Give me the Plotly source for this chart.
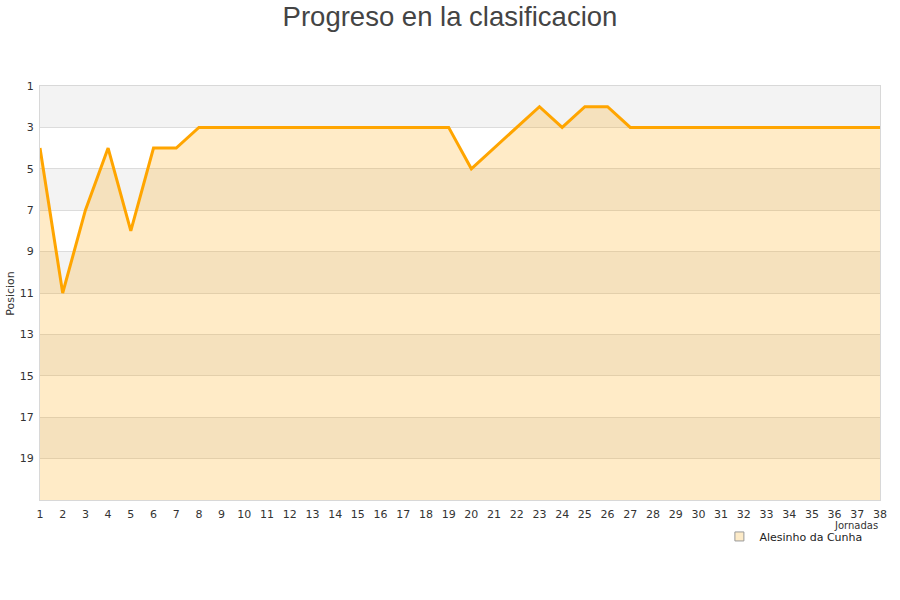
import plotly.graph_objects as go

jornadas = list(range(1, 39))
posiciones = [4, 11, 7, 4, 8, 4, 4, 3, 3, 3, 3, 3, 3, 3, 3, 3, 3, 3, 3, 5,
              4, 3, 2, 3, 2, 2, 3, 3, 3, 3, 3, 3, 3, 3, 3, 3, 3, 3]
equipo = "Alesinho da Cunha"
y_ticks = [1, 3, 5, 7, 9, 11, 13, 15, 17, 19]
y_min, y_max = 1, 21

fig = go.Figure()

# baseline for fill
fig.add_trace(go.Scatter(x=jornadas, y=[y_max] * len(jornadas), mode="lines",
                         line=dict(width=0), showlegend=False, hoverinfo="skip"))
fig.add_trace(go.Scatter(x=jornadas, y=posiciones, mode="lines", fill="tonexty",
                         fillcolor="rgba(255,165,0,0.22)",
                         line=dict(color="#ffa500", width=3), showlegend=False))
# legend entry
fig.add_trace(go.Scatter(x=[None], y=[None], mode="markers", name=equipo,
                         marker=dict(symbol="square", size=9, color="#fdebc8",
                                     line=dict(color="#999999", width=1))))

shapes = []
for i, start in enumerate(range(y_min, y_max, 2)):
    if i % 2 == 0:
        shapes.append(dict(type="rect", xref="paper", yref="y", x0=0, x1=1,
                           y0=start, y1=start + 2, fillcolor="#f3f3f3",
                           line=dict(width=0), layer="below"))

fig.update_layout(
    width=900, height=600,
    margin=dict(l=40, r=20, t=86, b=100),
    paper_bgcolor="white", plot_bgcolor="white",
    font=dict(family="DejaVu Sans", size=11, color="#333333"),
    title=dict(text="Progreso en la clasificacion", x=0.5, xanchor="center",
               y=0.972, yanchor="middle",
               font=dict(family="Liberation Sans", size=27.5, color="#444444")),
    shapes=shapes,
    showlegend=True,
    legend=dict(x=0.985, y=-0.053, xanchor="right", yanchor="top",
                bgcolor="rgba(255,255,255,0)", font=dict(size=11, color="#222222"),
                itemwidth=30, tracegroupgap=0),
    xaxis=dict(range=[1, 38], tickmode="array", tickvals=jornadas,
               showgrid=False, zeroline=False, showline=True, automargin=False,
               linecolor="#d8d8d8", mirror=True, ticks="", ticklen=0,
               ticklabelstandoff=4,
               tickfont=dict(size=11, color="#333333")),
    yaxis=dict(range=[y_max, y_min], tickmode="array", tickvals=y_ticks,
               showgrid=True, gridcolor="#dcdcdc", zeroline=False, automargin=False,
               showline=True, linecolor="#d8d8d8", mirror=True, ticks="",
               ticklabelstandoff=3,
               tickfont=dict(size=11, color="#333333")),
)

fig.add_annotation(text="Posicion", xref="paper", yref="paper", x=-0.036, y=0.5,
                   xanchor="center", yanchor="middle", textangle=-90,
                   showarrow=False, font=dict(size=11, color="#333333"))
fig.add_annotation(text="Jornadas", xref="paper", yref="paper", x=1.0, y=-0.062,
                   xanchor="right", yanchor="middle", showarrow=False,
                   font=dict(size=10, color="#333333"))

fig.write_html("out.html", config={"displayModeBar": False},
               post_script="document.body.style.margin='0px';")
